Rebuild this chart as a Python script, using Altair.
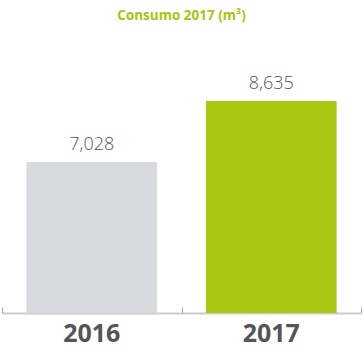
import altair as alt
import pandas as pd

years = ["2016", "2017"]
values = [7028, 8635]
labels = ["7,028", "8,635"]
colors = ["#d9dadf", "#aac811"]

df = pd.DataFrame({"year": years, "value": values, "label": labels, "color": colors})

x = alt.X("year:N", title=None,
          scale=alt.Scale(paddingInner=0, paddingOuter=0),
          axis=alt.Axis(labelAngle=0, labelFont="Open Sans", labelFontWeight="bold",
                        labelFontSize=25, labelColor="#555555", labelPadding=8,
                        domainColor="#cccccc", domainWidth=2, ticks=False))
y = alt.Y("value:Q", title=None,
          scale=alt.Scale(domain=[3060, 9740], zero=False, clamp=True, nice=False),
          axis=alt.Axis(labels=False, ticks=False, grid=False, domainColor="#cccccc",
                        domainWidth=2))

bars = alt.Chart(df).mark_bar(width=alt.RelativeBandSize(0.728)).encode(
    x=x, y=y, color=alt.Color("color:N", scale=None)
)
text = alt.Chart(df).mark_text(font="Open Sans", fontSize=18, fontWeight=300,
                               color="#555555", baseline="alphabetic", dy=-12).encode(
    x=alt.X("year:N", axis=None), y=alt.Y("value:Q", axis=None), text="label:N"
)
ticks = alt.Chart(df).mark_point(opacity=0).encode(
    x=alt.X("year:N", title=None,
            axis=alt.Axis(orient="bottom", offset=-6, domain=False, labels=False,
                          tickBand="extent", tickSize=6, tickColor="#aaaaaa",
                          tickWidth=1))
)

chart = alt.layer(bars, text, ticks).resolve_axis(x="independent").properties(
    width=359, height=254,
    title=alt.TitleParams("Consumo 2017 (m³)", font="Open Sans", fontSize=13.5,
                          fontWeight="bold", color="#a8c40c", anchor="middle", offset=37),
    autosize=alt.AutoSizeParams(type="none"),
    padding={"left": 2, "top": 59, "right": 2, "bottom": 42},
).configure_view(stroke=None)

chart.save("out.html", embed_options={"renderer": "svg", "actions": False})
